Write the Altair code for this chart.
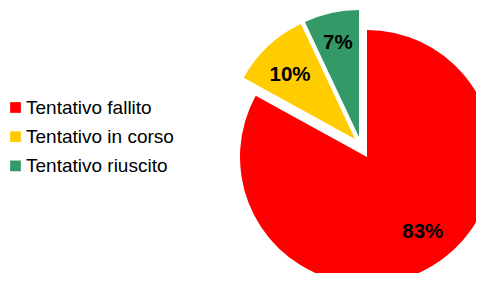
import altair as alt
import pandas as pd

categories = ["Tentativo fallito", "Tentativo in corso", "Tentativo riuscito"]
values = [83, 10, 7]
labels = ["83%", "10%", "7%"]
colors = ["#FF0000", "#FFCC00", "#339966"]
order = [0, 1, 2]

df = pd.DataFrame({"cat": categories, "value": values, "label": labels, "order": order})

W, H = 468, 265
# explosion offsets (style) for each slice, relative to the default pie centre
offsets = [(125, 16.5), (113, -1.5), (117, -3.5)]
# small label nudges (style)
label_nudges = [(9, -4), (-2, 3.5), (-1, -4.5)]
R = 127
LABEL_R = 92

base = alt.Chart(df).transform_stack(
    stack="value", groupby=[], as_=["v0", "v1"], sort=[alt.SortField("order")]
).transform_calculate(mid="(datum.v0 + datum.v1) / 2")

theta_scale = alt.Scale(domain=[0, 100])
color_scale = alt.Scale(domain=categories, range=colors)

layers = []
for cat, (ox, oy), (nx, ny) in zip(categories, offsets, label_nudges):
    sub = base.transform_filter(alt.datum.cat == cat)
    arc = sub.mark_arc(outerRadius=R, xOffset=ox, yOffset=oy).encode(
        theta=alt.Theta("v0:Q", scale=theta_scale),
        theta2="v1:Q",
        color=alt.Color(
            "cat:N",
            scale=color_scale,
            legend=alt.Legend(
                title=None,
                orient="none",
                legendX=-2,
                legendY=90,
                symbolType="square",
                symbolSize=115,
                symbolStrokeWidth=0,
                labelFont="Liberation Sans",
                labelFontSize=19,
                labelColor="#000000",
                labelOffset=1,
                rowPadding=9.2,
                padding=0,
                labelLimit=300,
            ),
        ),
    )
    txt = sub.mark_text(
        radius=LABEL_R, xOffset=ox, yOffset=oy, dx=nx, dy=ny,
        font="Liberation Sans", fontSize=20.5, fontWeight="bold", color="#000000",
    ).encode(
        theta=alt.Theta("mid:Q", scale=theta_scale),
        text="label:N",
    )
    layers += [arc, txt]

chart = alt.layer(*layers).properties(
    width=W, height=H, padding=0, autosize=alt.AutoSizeParams(type="none")
).configure_view(stroke=None)

chart.save("out.html", embed_options={"renderer": "svg", "actions": False})
